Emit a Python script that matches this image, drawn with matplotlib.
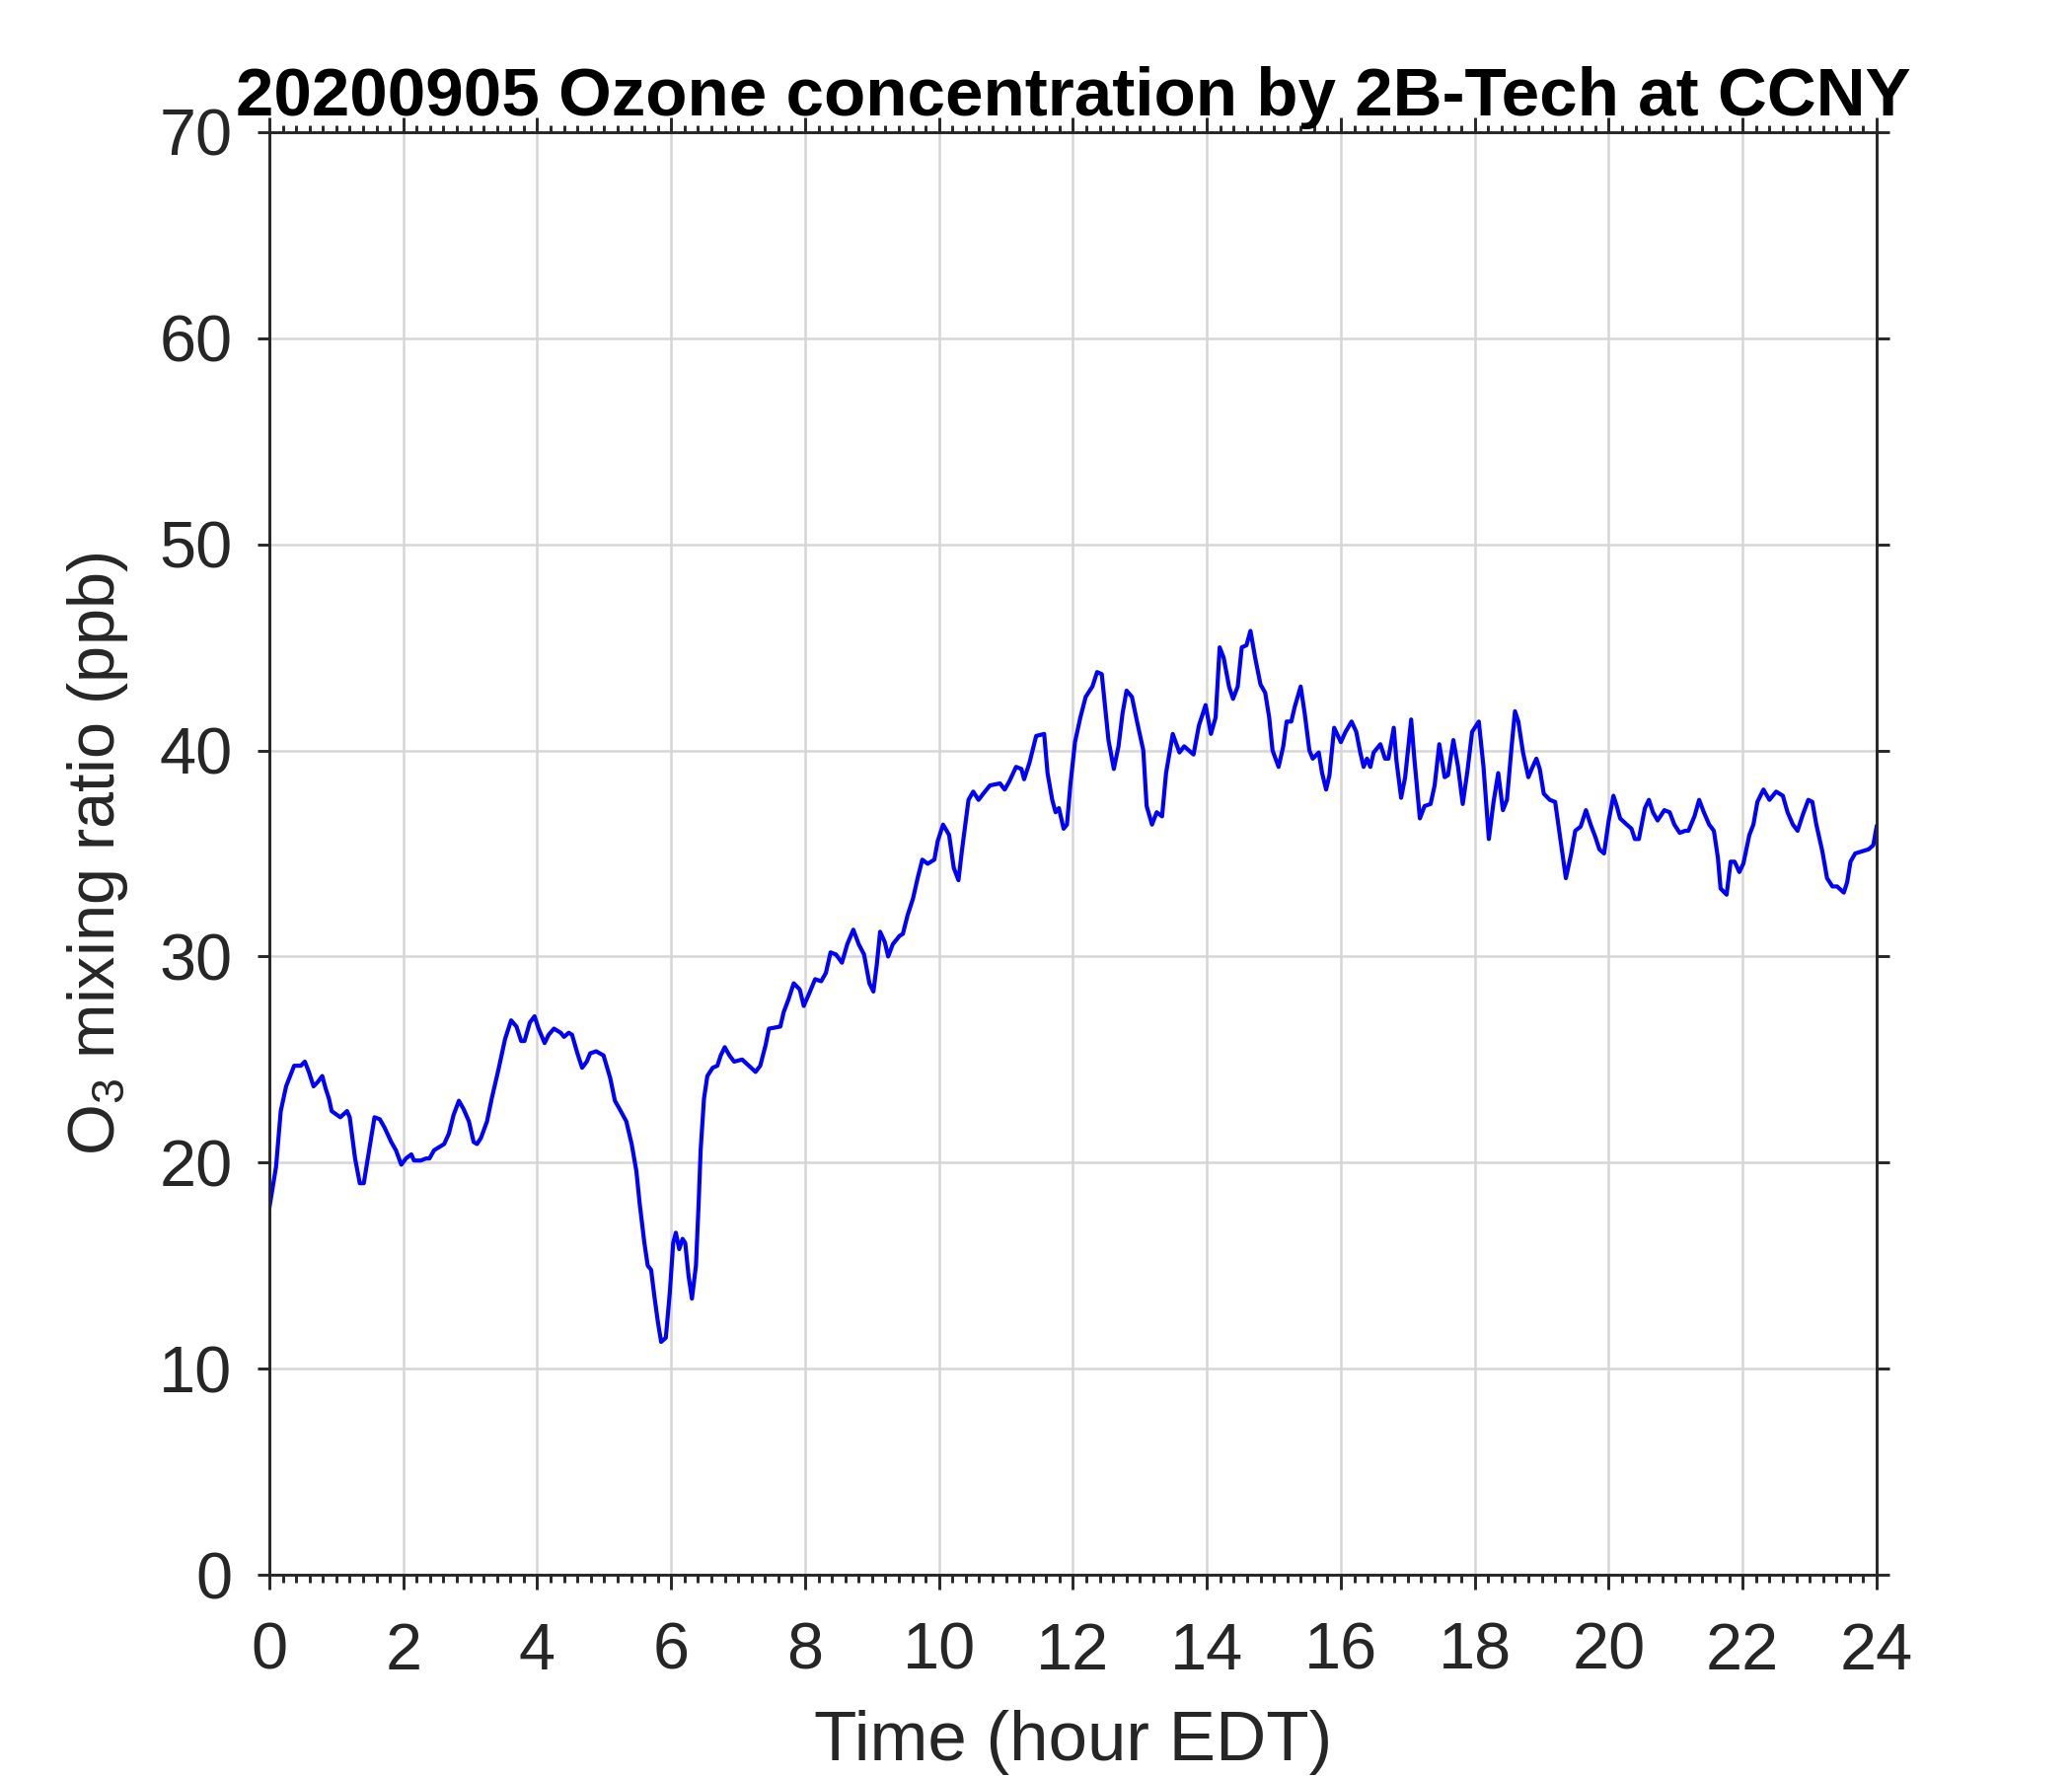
import numpy as np
import matplotlib
matplotlib.use("Agg")
import matplotlib.pyplot as plt
from matplotlib.ticker import MultipleLocator

# ozone readings, hour EDT vs ppb
hours = [0.00, 0.10, 0.17, 0.25, 0.37, 0.47, 0.53, 0.59, 0.66, 0.72, 0.79, 0.84, 0.89, 0.93,
         1.06, 1.16, 1.20, 1.28, 1.35, 1.41, 1.48, 1.57, 1.65, 1.72, 1.82, 1.89, 1.97,
         2.04, 2.12, 2.16, 2.26, 2.34, 2.39, 2.46, 2.61, 2.68, 2.75, 2.83, 2.90, 2.98,
         3.05, 3.10, 3.16, 3.25, 3.32, 3.42, 3.52, 3.61, 3.69, 3.76, 3.81, 3.89, 3.96,
         4.02, 4.11, 4.17, 4.25, 4.35, 4.40, 4.47, 4.52, 4.60, 4.67, 4.74, 4.79, 4.88, 4.99,
         5.09, 5.16, 5.23, 5.33, 5.41, 5.48, 5.53, 5.60, 5.65, 5.70, 5.75, 5.80, 5.85, 5.92, 5.98,
         6.03, 6.07, 6.12, 6.17, 6.21, 6.26, 6.31, 6.37, 6.41, 6.44, 6.49, 6.54, 6.62, 6.69, 6.74,
         6.80, 6.87, 6.94, 7.06, 7.16, 7.26, 7.33, 7.41, 7.46, 7.63, 7.68, 7.75, 7.83, 7.92, 7.98,
         8.06, 8.15, 8.24, 8.31, 8.38, 8.46, 8.55, 8.63, 8.72, 8.80, 8.88, 8.96,
         9.02, 9.07, 9.12, 9.19, 9.24, 9.31, 9.41, 9.46, 9.53, 9.61, 9.68, 9.75, 9.83, 9.93, 9.98,
         10.06, 10.15, 10.22, 10.29, 10.34, 10.44, 10.51, 10.59, 10.66, 10.76, 10.91, 10.98,
         11.05, 11.15, 11.23, 11.27, 11.35, 11.45, 11.57, 11.62, 11.69, 11.74, 11.79, 11.86, 11.91, 11.96,
         12.03, 12.11, 12.19, 12.29, 12.36, 12.43, 12.48, 12.53, 12.61, 12.68, 12.74, 12.80, 12.88, 12.95,
         13.05, 13.10, 13.18, 13.25, 13.33, 13.39, 13.49, 13.59, 13.66, 13.80, 13.88, 13.98,
         14.06, 14.13, 14.19, 14.25, 14.33, 14.39, 14.46, 14.52, 14.59, 14.65, 14.72, 14.80, 14.87, 14.93, 14.98,
         15.07, 15.14, 15.19, 15.26, 15.31, 15.40, 15.46, 15.53, 15.58, 15.67, 15.72, 15.78, 15.83, 15.90,
         16.00, 16.07, 16.16, 16.23, 16.29, 16.34, 16.39, 16.44, 16.49, 16.59, 16.66, 16.71, 16.79, 16.83, 16.90, 16.96,
         17.05, 17.10, 17.18, 17.25, 17.34, 17.40, 17.47, 17.55, 17.60, 17.68, 17.75, 17.82, 17.89, 17.96,
         18.06, 18.13, 18.21, 18.28, 18.35, 18.42, 18.48, 18.55, 18.60, 18.65, 18.72, 18.80, 18.85, 18.92, 18.97,
         19.03, 19.12, 19.20, 19.26, 19.31, 19.36, 19.44, 19.50, 19.58, 19.66, 19.73, 19.80, 19.86, 19.93,
         20.00, 20.07, 20.12, 20.17, 20.27, 20.34, 20.39, 20.45, 20.54, 20.60, 20.66, 20.73, 20.83, 20.91, 20.98,
         21.06, 21.14, 21.19, 21.28, 21.35, 21.42, 21.50, 21.57, 21.63, 21.67, 21.76, 21.82, 21.88, 21.95,
         22.01, 22.10, 22.16, 22.22, 22.31, 22.40, 22.50, 22.60, 22.67, 22.75, 22.82, 22.90, 22.98,
         23.04, 23.10, 23.19, 23.26, 23.34, 23.41, 23.51, 23.56, 23.61, 23.68, 23.78, 23.88, 23.95, 24.00]
o3_ppb = [17.8, 19.8, 22.5, 23.7, 24.7, 24.7, 24.9, 24.4, 23.7, 23.9, 24.2, 23.6, 23.1, 22.5,
          22.2, 22.5, 22.2, 20.2, 19.0, 19.0, 20.4, 22.2, 22.1, 21.7, 21.0, 20.6, 19.9,
          20.2, 20.4, 20.1, 20.1, 20.2, 20.2, 20.6, 20.9, 21.4, 22.3, 23.0, 22.6, 22.0,
          21.0, 20.9, 21.2, 22.0, 23.1, 24.5, 26.0, 26.9, 26.6, 25.9, 25.9, 26.8, 27.1,
          26.5, 25.8, 26.2, 26.5, 26.3, 26.1, 26.3, 26.2, 25.3, 24.6, 24.9, 25.3, 25.4, 25.2,
          24.1, 23.0, 22.6, 22.0, 20.9, 19.6, 18.0, 16.1, 15.0, 14.8, 13.5, 12.3, 11.3, 11.5, 13.7,
          16.1, 16.6, 15.8, 16.3, 16.1, 14.5, 13.4, 15.0, 18.0, 20.6, 23.1, 24.2, 24.6, 24.7, 25.2,
          25.6, 25.2, 24.9, 25.0, 24.7, 24.4, 24.7, 25.7, 26.5, 26.6, 27.3, 27.9, 28.7, 28.4, 27.6,
          28.2, 28.9, 28.8, 29.2, 30.2, 30.1, 29.7, 30.6, 31.3, 30.6, 30.1, 28.7,
          28.3, 29.6, 31.2, 30.7, 30.0, 30.6, 31.0, 31.1, 32.0, 32.8, 33.8, 34.7, 34.5, 34.7, 35.6,
          36.4, 35.9, 34.3, 33.7, 35.1, 37.6, 38.0, 37.6, 37.9, 38.3, 38.4, 38.1,
          38.5, 39.2, 39.1, 38.6, 39.4, 40.7, 40.8, 38.9, 37.6, 37.0, 37.2, 36.2, 36.4, 38.3,
          40.4, 41.6, 42.6, 43.1, 43.8, 43.7, 42.1, 40.5, 39.1, 40.2, 41.8, 42.9, 42.6, 41.5,
          40.0, 37.3, 36.4, 37.0, 36.8, 38.9, 40.8, 39.9, 40.2, 39.8, 41.2, 42.2,
          40.8, 41.6, 45.0, 44.5, 43.1, 42.5, 43.1, 45.0, 45.1, 45.8, 44.5, 43.2, 42.8, 41.6, 40.0,
          39.2, 40.2, 41.4, 41.4, 42.1, 43.1, 41.8, 40.0, 39.6, 39.9, 38.9, 38.1, 38.8, 41.1,
          40.4, 40.9, 41.4, 40.9, 39.9, 39.2, 39.6, 39.2, 39.9, 40.3, 39.6, 39.6, 41.1, 39.5, 37.7, 38.7,
          41.5, 39.5, 36.7, 37.3, 37.4, 38.3, 40.3, 38.7, 38.8, 40.5, 39.2, 37.4, 39.0, 40.9,
          41.4, 39.2, 35.7, 37.5, 38.9, 37.1, 37.6, 40.2, 41.9, 41.4, 39.9, 38.7, 39.1, 39.6, 39.1,
          37.9, 37.6, 37.5, 36.1, 34.9, 33.8, 35.0, 36.1, 36.3, 37.1, 36.4, 35.8, 35.2, 35.0,
          36.6, 37.8, 37.3, 36.7, 36.4, 36.2, 35.7, 35.7, 37.2, 37.6, 37.0, 36.6, 37.1, 37.0, 36.4,
          36.0, 36.1, 36.1, 36.8, 37.6, 37.0, 36.4, 36.1, 34.8, 33.3, 33.0, 34.6, 34.6, 34.1,
          34.5, 35.9, 36.4, 37.5, 38.1, 37.6, 38.0, 37.8, 37.0, 36.4, 36.1, 36.9, 37.6,
          37.5, 36.4, 35.1, 33.8, 33.4, 33.4, 33.1, 33.6, 34.6, 35.0, 35.1, 35.2, 35.4, 36.3]

x_ticks = list(range(0, 25, 2))
y_ticks = list(range(0, 71, 10))

fnt = "Liberation Sans"
plt.rcParams["font.family"] = [fnt, "DejaVu Sans"]
plt.rcParams["mathtext.fontset"] = "custom"
plt.rcParams["mathtext.rm"] = fnt
plt.rcParams["mathtext.it"] = fnt

fig = plt.figure(figsize=(7, 6), dpi=300)
ax = fig.add_axes([0.130, 0.1133, 0.7757, 0.8123])

ax.plot(hours, o3_ppb, color="#0000ff", linewidth=1.0)

ax.set_xlim(0, 24)
ax.set_ylim(0, 70)
ax.set_xticks(x_ticks)
ax.set_yticks(y_ticks)
ax.xaxis.set_minor_locator(MultipleLocator(0.2))

dark = "#262626"
for s in ax.spines.values():
    s.set_color(dark)
    s.set_linewidth(0.7)
ax.tick_params(which="both", direction="out", colors=dark, top=True, right=True,
               labelsize=16, width=0.7)
ax.tick_params(axis="x", which="major", length=3.5, pad=8)
ax.tick_params(axis="x", which="minor", length=1.8)
ax.tick_params(axis="y", which="major", length=3.0, pad=6)
ax.grid(True, which="major", color="#d6d6d6", linewidth=0.6)
ax.set_axisbelow(True)

ax.set_xlabel("Time (hour EDT)", fontsize=17, color=dark, labelpad=6.5)
ax.set_ylabel("O$_3$ mixing ratio (ppb)", fontsize=16, color=dark, labelpad=7)
ax.set_title("20200905 Ozone concentration by 2B-Tech at CCNY", fontsize=16.6,
             fontweight="bold", color="black", pad=4)

fig.savefig("out.png", dpi=300)
